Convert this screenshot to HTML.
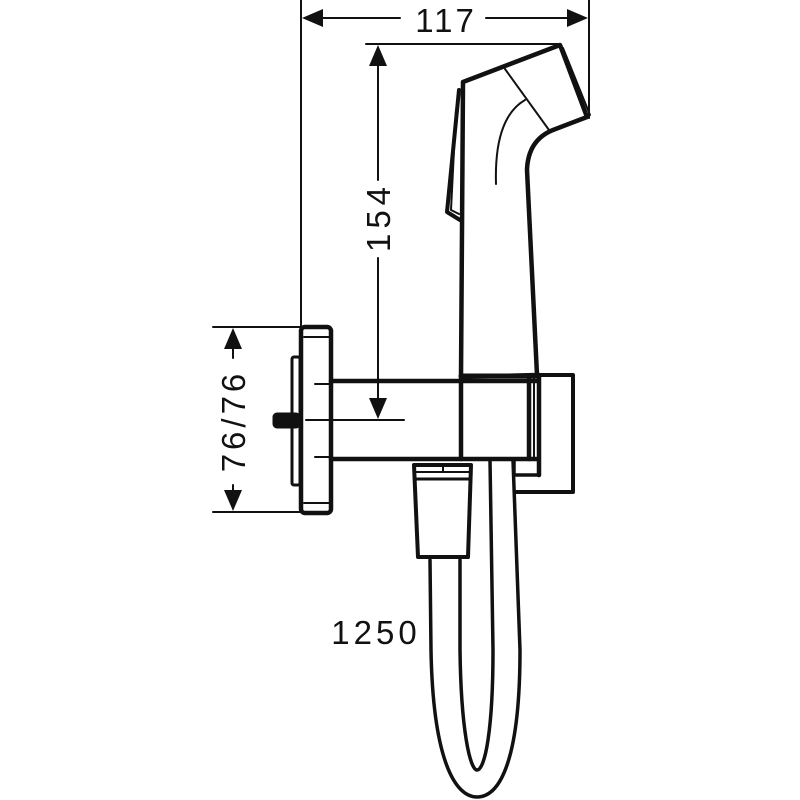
<!DOCTYPE html>
<html><head><meta charset="utf-8"><style>html,body{margin:0;padding:0;background:#fff}svg{display:block}</style></head>
<body>
<svg width="800" height="800" viewBox="0 0 800 800" xmlns="http://www.w3.org/2000/svg">
<g fill="none" stroke="#111" stroke-linecap="round" stroke-linejoin="round">
<line x1="301" y1="0" x2="301" y2="326" stroke-width="2"/>
<line x1="589" y1="0" x2="589" y2="118" stroke-width="2"/>
<line x1="305" y1="18" x2="400" y2="18" stroke-width="2"/>
<line x1="486" y1="18" x2="585" y2="18" stroke-width="2"/>
<line x1="366" y1="44" x2="558" y2="44" stroke-width="2"/>
<line x1="378" y1="50" x2="378" y2="180" stroke-width="2"/>
<line x1="378" y1="258" x2="378" y2="412" stroke-width="2"/>
<line x1="306" y1="420" x2="404" y2="420" stroke-width="2"/>
<line x1="213" y1="327" x2="304" y2="327" stroke-width="2"/>
<line x1="213" y1="512" x2="304" y2="512" stroke-width="2"/>
<line x1="233" y1="345" x2="233" y2="358" stroke-width="2"/>
<line x1="233" y1="485" x2="233" y2="497" stroke-width="2"/>
<rect x="301" y="327" width="30" height="186" rx="4" stroke-width="4.5"/>
<line x1="304" y1="337" x2="330" y2="337" stroke-width="2"/>
<line x1="304" y1="503" x2="330" y2="503" stroke-width="2"/>
<rect x="292" y="357" width="8" height="128" rx="2" stroke-width="3"/>
<rect x="273" y="413" width="27" height="15" rx="4" fill="#111" stroke-width="1"/>
<line x1="315" y1="384" x2="331" y2="384" stroke-width="2"/>
<line x1="315" y1="457" x2="331" y2="457" stroke-width="2"/>
<line x1="331" y1="381" x2="537" y2="381" stroke-width="4.5"/>
<line x1="331" y1="459" x2="537" y2="459" stroke-width="4.5"/>
<line x1="461" y1="378" x2="461" y2="459" stroke-width="4.5"/>
<line x1="529" y1="378" x2="529" y2="459" stroke-width="4.5"/>
<line x1="534" y1="378" x2="534" y2="459" stroke-width="2"/>
<line x1="539" y1="375" x2="539" y2="475" stroke-width="4.5"/>
<path d="M539 375 H573 V492 H516" stroke-width="4"/>
<path d="M514 459 V475 H539" stroke-width="3.5"/>
<path d="M461 377 L463 82 L560 45 L587 117 L553 130 Q528 140 527 170 L537 375 Z" stroke-width="4.5"/>
<line x1="461" y1="376" x2="539" y2="376" stroke-width="5"/>
<path d="M563 48 L590 115" stroke-width="2"/>
<path d="M459 90 L447 212 L460 220" stroke-width="4"/>
<path d="M456 110 L451 210 L459 214" stroke-width="2"/>
<line x1="505" y1="69" x2="549" y2="130" stroke-width="2"/>
<path d="M496 184 Q494 118 525 100" stroke-width="2"/>
<path d="M414 465 H471 L468 557 H418 Z" stroke-width="4"/>
<line x1="416" y1="472" x2="470" y2="472" stroke-width="2"/>
<line x1="416" y1="479" x2="469" y2="479" stroke-width="3"/>
<line x1="443" y1="465" x2="443" y2="472" stroke-width="2"/>
<path d="M430 560 L431 650 C433 760 455 797 477 797 C500 797 520 760 520 650 L513 460" stroke-width="3.5"/>
<path d="M460 560 L460 650 C461 730 470 770 477 770 C485 770 493 730 493 650 L490 460" stroke-width="3.5"/>
</g>
<g fill="#111">
<polygon points="302,18 323,9 323,27"/>
<polygon points="588,18 567,9 567,27"/>
<polygon points="378,45 369,66 387,66"/>
<polygon points="378,419 369,398 387,398"/>
<polygon points="233,328 224,349 242,349"/>
<polygon points="233,511 224,490 242,490"/>
</g>
<g font-family="Liberation Sans, sans-serif" fill="#111" font-size="33">
<text x="446" y="32" text-anchor="middle" letter-spacing="3">117</text>
<text x="376" y="644" text-anchor="middle" letter-spacing="4">1250</text>
<text transform="translate(390,217) rotate(-90)" text-anchor="middle" letter-spacing="5">154</text>
<text transform="translate(245,421) rotate(-90)" text-anchor="middle" letter-spacing="4">76/76</text>
</g>
</svg>
</body></html>
